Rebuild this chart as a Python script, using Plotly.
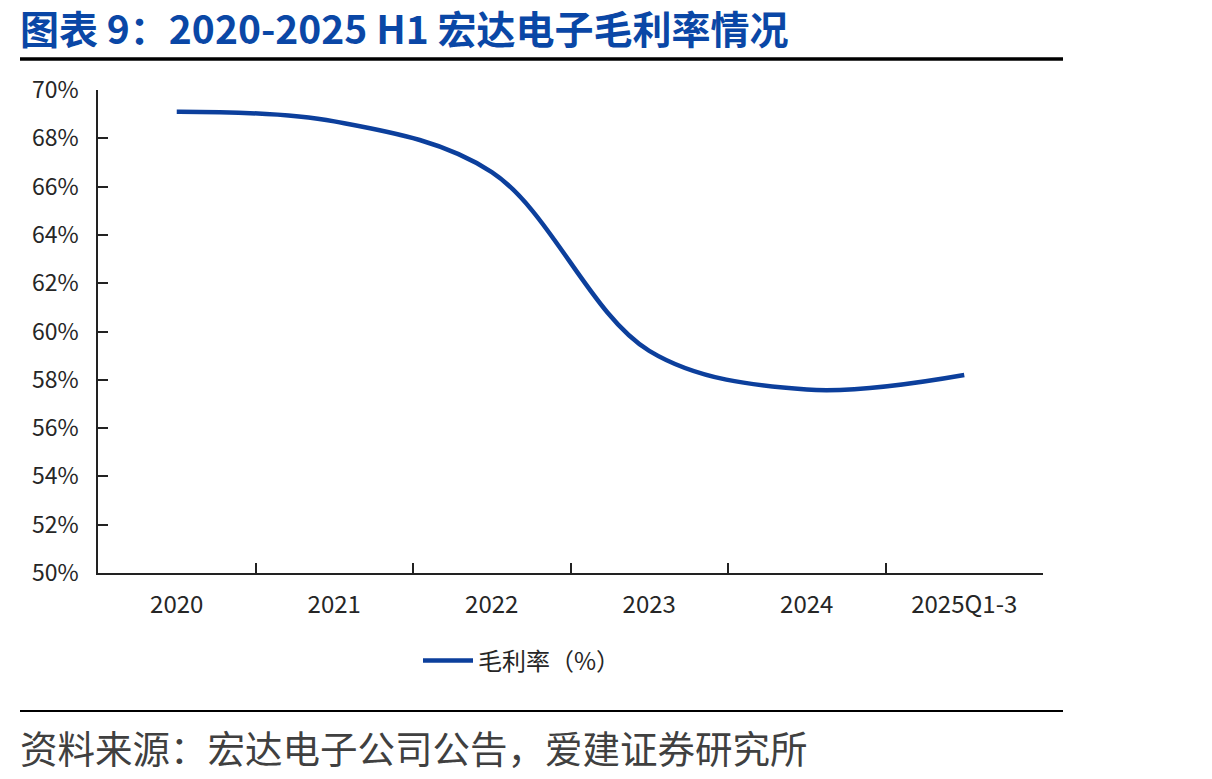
import plotly.graph_objects as go

categories = ["2020", "2021", "2022", "2023", "2024", "2025Q1-3"]
gross_margin = [69.1, 68.7, 66.6, 59.2, 57.6, 58.2]
y_ticks = [50, 52, 54, 56, 58, 60, 62, 64, 66, 68, 70]
y_tick_labels = [f"{v}%" for v in y_ticks]

title_text = "图表 9：2020-2025 H1 宏达电子毛利率情况"
source_text = "资料来源：宏达电子公司公告，爱建证券研究所"
series_name = "毛利率（%）"

W, H = 1212, 779
L, R, T, B = 98, 1043, 90, 573


def px_x(p):
    return (p - L) / (R - L)


def px_y(p):
    return (B - p) / (B - T)


FONT = "Noto Sans CJK SC, Microsoft YaHei, sans-serif"

fig = go.Figure()
fig.add_trace(go.Scatter(
    x=categories, y=gross_margin, mode="lines", name=series_name,
    line=dict(color="#0C3F9C", width=4.5, shape="spline", smoothing=1.0),
))

fig.update_layout(
    width=W, height=H,
    margin=dict(l=L, r=W - R, t=T, b=H - B, pad=0),
    paper_bgcolor="white", plot_bgcolor="white",
    font=dict(family=FONT, size=23, color="#262626"),
    showlegend=True,
    legend=dict(orientation="h", x=px_x(522), y=px_y(661), xanchor="center", yanchor="middle",
                font=dict(size=24, color="#262626"), bgcolor="rgba(0,0,0,0)", itemwidth=50),
    xaxis=dict(
        type="category", range=[-0.5, len(categories) - 0.5],
        showline=True, linecolor="#222222", linewidth=1.5,
        ticks="inside", ticklen=10, tickcolor="#222222", tickwidth=1.5,
        tickson="boundaries", showgrid=False, zeroline=False,
        ticklabelstandoff=9,
        tickfont=dict(size=24, color="#262626"),
    ),
    yaxis=dict(
        range=[50, 70], tickvals=y_ticks, ticktext=y_tick_labels,
        showline=True, linecolor="#222222", linewidth=1.5,
        ticks="inside", ticklen=10, tickcolor="#222222", tickwidth=1.5,
        showgrid=False, zeroline=False,
        ticklabelstandoff=13,
        tickfont=dict(size=23, color="#262626"),
    ),
    shapes=[
        dict(type="line", xref="paper", yref="paper", x0=px_x(20), x1=px_x(1063),
             y0=px_y(59), y1=px_y(59), line=dict(color="black", width=3.5)),
        dict(type="line", xref="paper", yref="paper", x0=px_x(20), x1=px_x(1063),
             y0=px_y(711), y1=px_y(711), line=dict(color="black", width=2)),
    ],
    annotations=[
        dict(text=f"<b>{title_text}</b>", xref="paper", yref="paper", x=px_x(18), y=px_y(27),
             xanchor="left", yanchor="middle", showarrow=False,
             font=dict(family=FONT, size=39, color="#0A47A6")),
        dict(text=source_text, xref="paper", yref="paper", x=px_x(18), y=px_y(746),
             xanchor="left", yanchor="middle", showarrow=False,
             font=dict(family=FONT, size=37.5, color="#404040")),
    ],
)

fig.write_html("out.html")
